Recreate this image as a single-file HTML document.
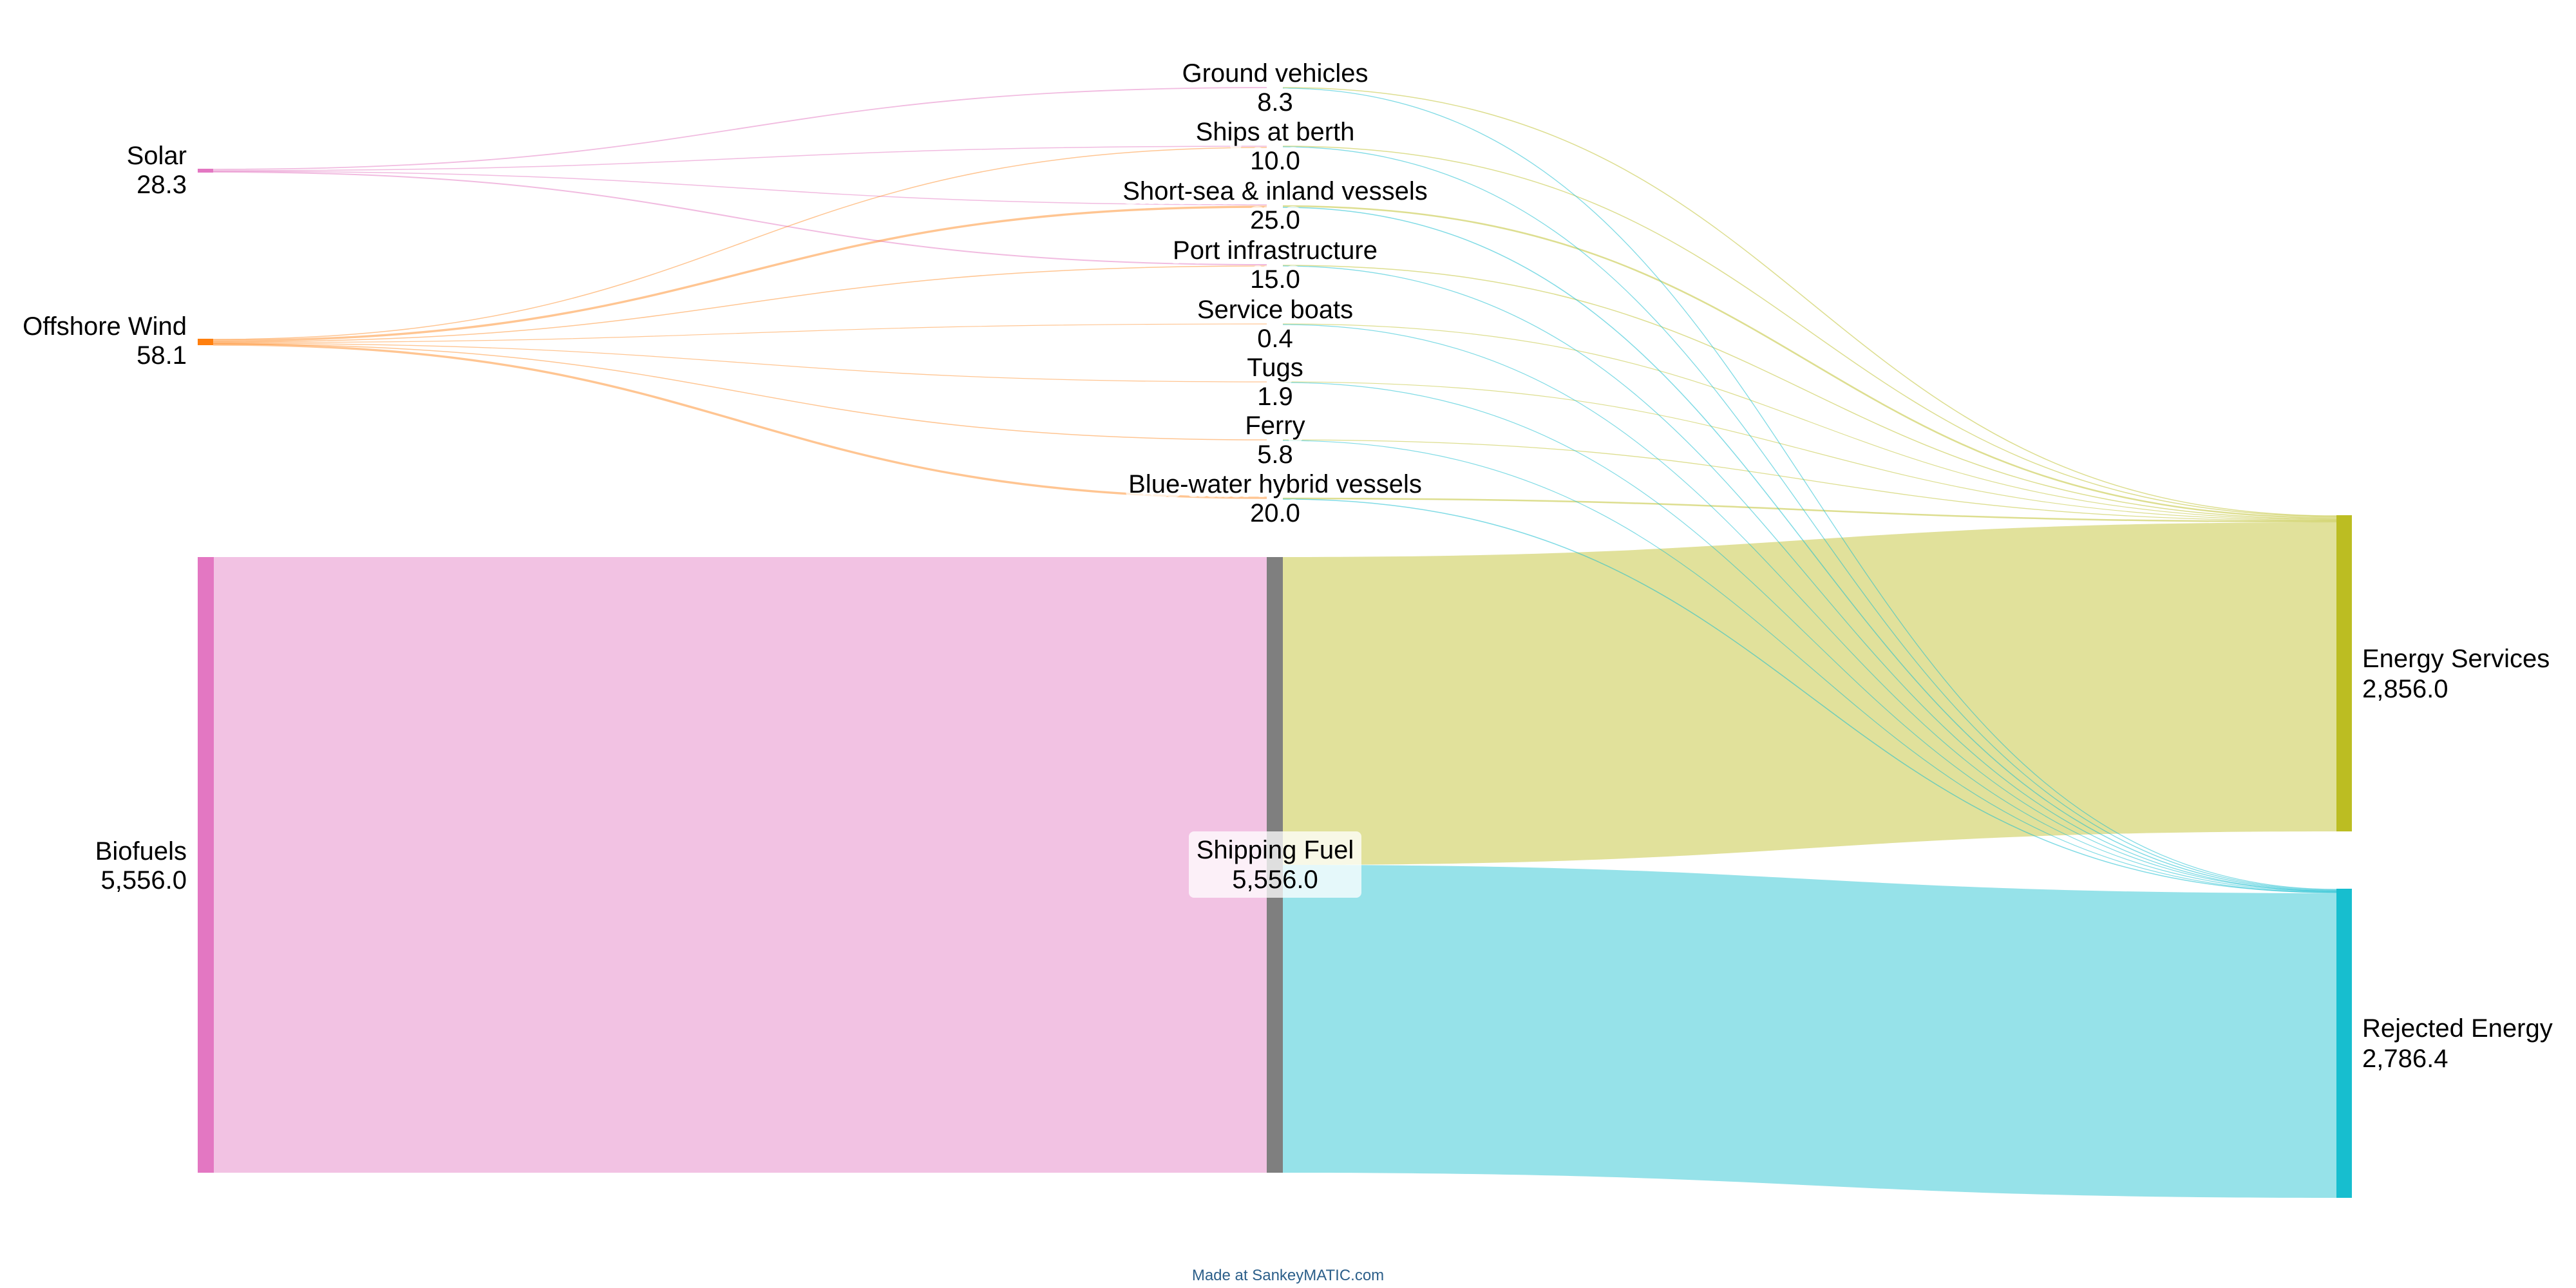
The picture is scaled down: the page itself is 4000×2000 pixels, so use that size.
<!DOCTYPE html>
<html><head><meta charset="utf-8"><style>
html,body{margin:0;padding:0;background:#fff;}
svg{display:block;}
text{font-family:"Liberation Sans",Arial,sans-serif;font-size:40px;fill:#000;}
</style></head><body>
<svg width="4000" height="2000" viewBox="0 0 4000 2000" xmlns="http://www.w3.org/2000/svg">
<!-- big flows -->
<path d="M332,865 L1967,865 L1967,1821 L332,1821 Z" fill="#e377c2" fill-opacity="0.45"/>
<path d="M1992,865 C2810,865 2810,811 3628,811 L3628,1291 C2810,1291 2810,1343 1992,1343 Z" fill="#bcbd22" fill-opacity="0.45"/>
<path d="M1992,1343 C2810,1343 2810,1387 3628,1387 L3628,1860 C2810,1860 2810,1821 1992,1821 Z" fill="#17becf" fill-opacity="0.45"/>

<!-- solar flows -->
<g fill="none" stroke="#e377c2" stroke-opacity="0.5">
<path d="M331,263 C1150,263 1150,136 1967,136" stroke-width="1.8"/>
<path d="M331,265 C1150,265 1150,227 1967,227" stroke-width="1.5"/>
<path d="M331,266 C1150,266 1150,318 1967,318" stroke-width="1.5"/>
<path d="M331,267 C1150,267 1150,411 1967,411" stroke-width="2"/>
</g>
<!-- wind flows -->
<g fill="none" stroke="#ff7f0e" stroke-opacity="0.45">
<path d="M331,527 C1150,527 1150,229 1967,229" stroke-width="1.5"/>
<path d="M331,529 C1150,529 1150,321 1967,321" stroke-width="3.4"/>
<path d="M331,531 C1150,531 1150,413 1967,413" stroke-width="1.5"/>
<path d="M331,532 C1150,532 1150,503 1967,503" stroke-width="1.2"/>
<path d="M331,533 C1150,533 1150,593 1967,593" stroke-width="1.3"/>
<path d="M331,534 C1150,534 1150,683 1967,683" stroke-width="1.5"/>
<path d="M331,535 C1150,535 1150,773 1967,773" stroke-width="3.4"/>
</g>
<!-- to energy services -->
<g fill="none" stroke="#bcbd22" stroke-opacity="0.5">
<path d="M1992,136 C2810,136 2810,801 3628,801" stroke-width="1.5"/>
<path d="M1992,227 C2810,227 2810,802 3628,802" stroke-width="1.5"/>
<path d="M1992,320 C2810,320 2810,804 3628,804" stroke-width="2.5"/>
<path d="M1992,412 C2810,412 2810,806 3628,806" stroke-width="1.5"/>
<path d="M1992,503 C2810,503 2810,807 3628,807" stroke-width="1.2"/>
<path d="M1992,593 C2810,593 2810,808 3628,808" stroke-width="1.2"/>
<path d="M1992,683 C2810,683 2810,809 3628,809" stroke-width="1.3"/>
<path d="M1992,774 C2810,774 2810,810 3628,810" stroke-width="2.5"/>
</g>
<!-- to rejected -->
<g fill="none" stroke="#17becf" stroke-opacity="0.55">
<path d="M1992,137 C2810,137 2810,1381 3628,1381" stroke-width="1.3"/>
<path d="M1992,228 C2810,228 2810,1382 3628,1382" stroke-width="1.3"/>
<path d="M1992,322 C2810,322 2810,1383 3628,1383" stroke-width="1.5"/>
<path d="M1992,413 C2810,413 2810,1384 3628,1384" stroke-width="1.3"/>
<path d="M1992,504 C2810,504 2810,1384 3628,1384" stroke-width="1.2"/>
<path d="M1992,594 C2810,594 2810,1385 3628,1385" stroke-width="1.2"/>
<path d="M1992,684 C2810,684 2810,1386 3628,1386" stroke-width="1.2"/>
<path d="M1992,775 C2810,775 2810,1386 3628,1386" stroke-width="1.5"/>
</g>

<!-- nodes -->
<rect x="307" y="262" width="24" height="6" fill="#e377c2"/>
<rect x="307" y="526" width="24" height="10" fill="#ff7f0e"/>
<rect x="307" y="865" width="25" height="956" fill="#e377c2"/>
<rect x="1967" y="865" width="25" height="956" fill="#7f7f7f"/>
<rect x="3628" y="800" width="24" height="491" fill="#bcbd22"/>
<rect x="3628" y="1380" width="24" height="480" fill="#17becf"/>

<!-- left labels -->
<g text-anchor="end">
<text x="290" y="255">Solar</text><text x="290" y="300">28.3</text>
<text x="290" y="520">Offshore Wind</text><text x="290" y="565">58.1</text>
<text x="290" y="1335">Biofuels</text><text x="290" y="1380">5,556.0</text>
</g>

<!-- middle labels -->
<g text-anchor="middle" style="paint-order:stroke" stroke="#fff" stroke-opacity="0.7" stroke-width="14" stroke-linejoin="round">
<text x="1980" y="127">Ground vehicles</text><text x="1980" y="172">8.3</text>
<text x="1980" y="218">Ships at berth</text><text x="1980" y="263">10.0</text>
<text x="1980" y="310">Short-sea &amp; inland vessels</text><text x="1980" y="355">25.0</text>
<text x="1980" y="402">Port infrastructure</text><text x="1980" y="447">15.0</text>
<text x="1980" y="494">Service boats</text><text x="1980" y="539">0.4</text>
<text x="1980" y="584">Tugs</text><text x="1980" y="629">1.9</text>
<text x="1980" y="674">Ferry</text><text x="1980" y="719">5.8</text>
<text x="1980" y="765">Blue-water hybrid vessels</text><text x="1980" y="810">20.0</text>
</g>

<rect x="1846" y="1291" width="268" height="103" rx="8" fill="#fff" fill-opacity="0.75"/>
<g text-anchor="middle">
<text x="1980" y="1333">Shipping Fuel</text><text x="1980" y="1379">5,556.0</text>
</g>

<text x="3668" y="1036">Energy Services</text><text x="3668" y="1083">2,856.0</text>
<text x="3668" y="1610">Rejected Energy</text><text x="3668" y="1657">2,786.4</text>

<text x="2000" y="1988" text-anchor="middle" style="font-size:24px;fill:#2c5f8a">Made at SankeyMATIC.com</text>
</svg>
</body></html>
